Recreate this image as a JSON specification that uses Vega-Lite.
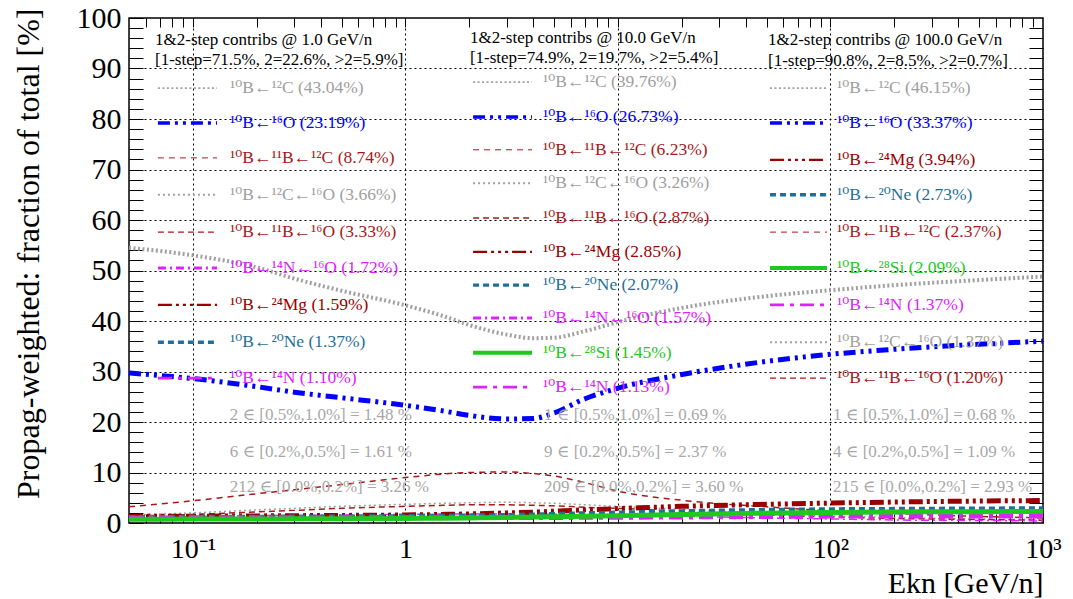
{
  "$schema": "https://vega.github.io/schema/vega-lite/v6.json",
  "width": 914,
  "height": 505,
  "autosize": {"type": "none"},
  "padding": {"left": 129, "top": 18, "right": 30, "bottom": 76},
  "background": "white",
  "config": {
    "view": {"stroke": "black", "strokeWidth": 1.5},
    "font": "Liberation Serif",
    "axis": {"labelFont": "Liberation Serif", "titleFont": "Liberation Serif", "labelColor": "black", "titleColor": "black", "tickColor": "black", "tickWidth": 1, "tickOpacity": 1, "domain": false, "grid": false, "titleFontWeight": "normal", "labelFontWeight": "normal"},
    "text": {"font": "Liberation Serif"}
  },
  "datasets": {
    "curves": [
      {"series":"C12","E":0.05,"pct":54.5},{"series":"C12","E":0.1,"pct":53.0},{"series":"C12","E":0.2,"pct":50.6},{"series":"C12","E":0.3,"pct":48.4},{"series":"C12","E":0.5,"pct":46.0},{"series":"C12","E":1,"pct":43.1},{"series":"C12","E":1.5,"pct":41.0},{"series":"C12","E":2,"pct":39.2},{"series":"C12","E":3,"pct":37.3},{"series":"C12","E":4,"pct":36.6},{"series":"C12","E":5,"pct":36.7},{"series":"C12","E":7,"pct":38.0},{"series":"C12","E":10,"pct":39.8},{"series":"C12","E":20,"pct":42.6},{"series":"C12","E":50,"pct":44.9},{"series":"C12","E":100,"pct":46.1},{"series":"C12","E":200,"pct":47.1},{"series":"C12","E":500,"pct":48.1},{"series":"C12","E":1000,"pct":48.8},
      {"series":"O16","E":0.05,"pct":29.7},{"series":"O16","E":0.1,"pct":28.6},{"series":"O16","E":0.2,"pct":27.0},{"series":"O16","E":0.3,"pct":25.9},{"series":"O16","E":0.5,"pct":24.8},{"series":"O16","E":1,"pct":23.3},{"series":"O16","E":1.5,"pct":22.2},{"series":"O16","E":2,"pct":21.3},{"series":"O16","E":3,"pct":20.6},{"series":"O16","E":4,"pct":20.7},{"series":"O16","E":5,"pct":21.8},{"series":"O16","E":7,"pct":24.6},{"series":"O16","E":10,"pct":26.7},{"series":"O16","E":20,"pct":29.4},{"series":"O16","E":50,"pct":32.0},{"series":"O16","E":100,"pct":33.4},{"series":"O16","E":200,"pct":34.4},{"series":"O16","E":500,"pct":35.4},{"series":"O16","E":1000,"pct":36.0},
      {"series":"B11C12","E":0.05,"pct":3.2},{"series":"B11C12","E":0.1,"pct":4.4},{"series":"B11C12","E":0.2,"pct":5.8},{"series":"B11C12","E":0.3,"pct":6.6},{"series":"B11C12","E":0.5,"pct":7.6},{"series":"B11C12","E":1,"pct":9.0},{"series":"B11C12","E":1.5,"pct":9.7},{"series":"B11C12","E":2,"pct":10.0},{"series":"B11C12","E":3,"pct":10.1},{"series":"B11C12","E":4,"pct":9.8},{"series":"B11C12","E":5,"pct":9.3},{"series":"B11C12","E":7,"pct":8.0},{"series":"B11C12","E":10,"pct":6.3},{"series":"B11C12","E":20,"pct":4.5},{"series":"B11C12","E":50,"pct":3.2},{"series":"B11C12","E":100,"pct":2.4},{"series":"B11C12","E":200,"pct":1.9},{"series":"B11C12","E":500,"pct":1.3},{"series":"B11C12","E":1000,"pct":1.0},
      {"series":"C12O16","E":0.05,"pct":1.6},{"series":"C12O16","E":0.1,"pct":2.0},{"series":"C12O16","E":0.2,"pct":2.6},{"series":"C12O16","E":0.3,"pct":2.9},{"series":"C12O16","E":0.5,"pct":3.3},{"series":"C12O16","E":1,"pct":3.7},{"series":"C12O16","E":1.5,"pct":3.9},{"series":"C12O16","E":2,"pct":4.0},{"series":"C12O16","E":3,"pct":4.1},{"series":"C12O16","E":4,"pct":4.0},{"series":"C12O16","E":5,"pct":3.9},{"series":"C12O16","E":7,"pct":3.6},{"series":"C12O16","E":10,"pct":3.3},{"series":"C12O16","E":20,"pct":2.7},{"series":"C12O16","E":50,"pct":1.9},{"series":"C12O16","E":100,"pct":1.4},{"series":"C12O16","E":200,"pct":1.1},{"series":"C12O16","E":500,"pct":0.8},{"series":"C12O16","E":1000,"pct":0.7},
      {"series":"B11O16","E":0.05,"pct":1.4},{"series":"B11O16","E":0.1,"pct":1.7},{"series":"B11O16","E":0.2,"pct":2.2},{"series":"B11O16","E":0.3,"pct":2.5},{"series":"B11O16","E":0.5,"pct":2.9},{"series":"B11O16","E":1,"pct":3.3},{"series":"B11O16","E":1.5,"pct":3.5},{"series":"B11O16","E":2,"pct":3.6},{"series":"B11O16","E":3,"pct":3.6},{"series":"B11O16","E":4,"pct":3.5},{"series":"B11O16","E":5,"pct":3.4},{"series":"B11O16","E":7,"pct":3.1},{"series":"B11O16","E":10,"pct":2.9},{"series":"B11O16","E":20,"pct":2.3},{"series":"B11O16","E":50,"pct":1.6},{"series":"B11O16","E":100,"pct":1.2},{"series":"B11O16","E":200,"pct":0.9},{"series":"B11O16","E":500,"pct":0.7},{"series":"B11O16","E":1000,"pct":0.55},
      {"series":"N14O16","E":0.05,"pct":1.2},{"series":"N14O16","E":0.1,"pct":1.3},{"series":"N14O16","E":0.2,"pct":1.45},{"series":"N14O16","E":0.3,"pct":1.5},{"series":"N14O16","E":0.5,"pct":1.6},{"series":"N14O16","E":1,"pct":1.72},{"series":"N14O16","E":1.5,"pct":1.76},{"series":"N14O16","E":2,"pct":1.78},{"series":"N14O16","E":3,"pct":1.78},{"series":"N14O16","E":4,"pct":1.76},{"series":"N14O16","E":5,"pct":1.72},{"series":"N14O16","E":7,"pct":1.65},{"series":"N14O16","E":10,"pct":1.57},{"series":"N14O16","E":20,"pct":1.35},{"series":"N14O16","E":50,"pct":1.0},{"series":"N14O16","E":100,"pct":0.8},{"series":"N14O16","E":200,"pct":0.6},{"series":"N14O16","E":500,"pct":0.5},{"series":"N14O16","E":1000,"pct":0.4},
      {"series":"Mg24","E":0.05,"pct":1.3},{"series":"Mg24","E":0.1,"pct":1.35},{"series":"Mg24","E":0.2,"pct":1.4},{"series":"Mg24","E":0.3,"pct":1.45},{"series":"Mg24","E":0.5,"pct":1.5},{"series":"Mg24","E":1,"pct":1.59},{"series":"Mg24","E":1.5,"pct":1.7},{"series":"Mg24","E":2,"pct":1.8},{"series":"Mg24","E":3,"pct":2.0},{"series":"Mg24","E":4,"pct":2.15},{"series":"Mg24","E":5,"pct":2.35},{"series":"Mg24","E":7,"pct":2.6},{"series":"Mg24","E":10,"pct":2.85},{"series":"Mg24","E":20,"pct":3.3},{"series":"Mg24","E":50,"pct":3.7},{"series":"Mg24","E":100,"pct":3.94},{"series":"Mg24","E":200,"pct":4.15},{"series":"Mg24","E":500,"pct":4.35},{"series":"Mg24","E":1000,"pct":4.45},
      {"series":"Ne20","E":0.05,"pct":1.2},{"series":"Ne20","E":0.1,"pct":1.22},{"series":"Ne20","E":0.2,"pct":1.25},{"series":"Ne20","E":0.3,"pct":1.28},{"series":"Ne20","E":0.5,"pct":1.3},{"series":"Ne20","E":1,"pct":1.37},{"series":"Ne20","E":1.5,"pct":1.44},{"series":"Ne20","E":2,"pct":1.5},{"series":"Ne20","E":3,"pct":1.6},{"series":"Ne20","E":4,"pct":1.7},{"series":"Ne20","E":5,"pct":1.8},{"series":"Ne20","E":7,"pct":1.95},{"series":"Ne20","E":10,"pct":2.07},{"series":"Ne20","E":20,"pct":2.35},{"series":"Ne20","E":50,"pct":2.6},{"series":"Ne20","E":100,"pct":2.73},{"series":"Ne20","E":200,"pct":2.8},{"series":"Ne20","E":500,"pct":2.88},{"series":"Ne20","E":1000,"pct":2.92},
      {"series":"N14","E":0.05,"pct":1.0},{"series":"N14","E":0.1,"pct":1.02},{"series":"N14","E":0.2,"pct":1.04},{"series":"N14","E":0.3,"pct":1.05},{"series":"N14","E":0.5,"pct":1.07},{"series":"N14","E":1,"pct":1.1},{"series":"N14","E":1.5,"pct":1.1},{"series":"N14","E":2,"pct":1.1},{"series":"N14","E":3,"pct":1.1},{"series":"N14","E":4,"pct":1.11},{"series":"N14","E":5,"pct":1.11},{"series":"N14","E":7,"pct":1.12},{"series":"N14","E":10,"pct":1.13},{"series":"N14","E":20,"pct":1.2},{"series":"N14","E":50,"pct":1.3},{"series":"N14","E":100,"pct":1.37},{"series":"N14","E":200,"pct":1.4},{"series":"N14","E":500,"pct":1.4},{"series":"N14","E":1000,"pct":1.4},
      {"series":"Si28","E":0.05,"pct":0.75},{"series":"Si28","E":0.1,"pct":0.78},{"series":"Si28","E":0.2,"pct":0.8},{"series":"Si28","E":0.3,"pct":0.82},{"series":"Si28","E":0.5,"pct":0.85},{"series":"Si28","E":1,"pct":0.9},{"series":"Si28","E":1.5,"pct":0.95},{"series":"Si28","E":2,"pct":1.0},{"series":"Si28","E":3,"pct":1.1},{"series":"Si28","E":4,"pct":1.18},{"series":"Si28","E":5,"pct":1.25},{"series":"Si28","E":7,"pct":1.35},{"series":"Si28","E":10,"pct":1.45},{"series":"Si28","E":20,"pct":1.7},{"series":"Si28","E":50,"pct":1.95},{"series":"Si28","E":100,"pct":2.09},{"series":"Si28","E":200,"pct":2.18},{"series":"Si28","E":500,"pct":2.25},{"series":"Si28","E":1000,"pct":2.3}
    ],
    "legend": [
      {"series":"C12","label":"¹⁰B←¹²C (43.04%)","E":0.1494,"E0":0.0684,"E1":0.1298,"pct":86.1},
      {"series":"O16","label":"¹⁰B←¹⁶O (23.19%)","E":0.1494,"E0":0.0684,"E1":0.1298,"pct":79.2},
      {"series":"B11C12","label":"¹⁰B←¹¹B←¹²C (8.74%)","E":0.1494,"E0":0.0684,"E1":0.1298,"pct":72.3},
      {"series":"C12O16","label":"¹⁰B←¹²C←¹⁶O (3.66%)","E":0.1494,"E0":0.0684,"E1":0.1298,"pct":65.0},
      {"series":"B11O16","label":"¹⁰B←¹¹B←¹⁶O (3.33%)","E":0.1494,"E0":0.0684,"E1":0.1298,"pct":57.6},
      {"series":"N14O16","label":"¹⁰B←¹⁴N←¹⁶O (1.72%)","E":0.1494,"E0":0.0684,"E1":0.1298,"pct":50.5},
      {"series":"Mg24","label":"¹⁰B←²⁴Mg (1.59%)","E":0.1494,"E0":0.0684,"E1":0.1298,"pct":43.2},
      {"series":"Ne20","label":"¹⁰B←²⁰Ne (1.37%)","E":0.1494,"E0":0.0684,"E1":0.1298,"pct":35.8},
      {"series":"N14","label":"¹⁰B←¹⁴N (1.10%)","E":0.1494,"E0":0.0684,"E1":0.1298,"pct":28.7},
      {"series":"C12","label":"¹⁰B←¹²C (39.76%)","E":4.44,"E0":2.08,"E1":3.94,"pct":87.3},
      {"series":"O16","label":"¹⁰B←¹⁶O (26.73%)","E":4.44,"E0":2.08,"E1":3.94,"pct":80.4},
      {"series":"B11C12","label":"¹⁰B←¹¹B←¹²C (6.23%)","E":4.44,"E0":2.08,"E1":3.94,"pct":73.9},
      {"series":"C12O16","label":"¹⁰B←¹²C←¹⁶O (3.26%)","E":4.44,"E0":2.08,"E1":3.94,"pct":67.3},
      {"series":"B11O16","label":"¹⁰B←¹¹B←¹⁶O (2.87%)","E":4.44,"E0":2.08,"E1":3.94,"pct":60.4},
      {"series":"Mg24","label":"¹⁰B←²⁴Mg (2.85%)","E":4.44,"E0":2.08,"E1":3.94,"pct":53.7},
      {"series":"Ne20","label":"¹⁰B←²⁰Ne (2.07%)","E":4.44,"E0":2.08,"E1":3.94,"pct":47.1},
      {"series":"N14O16","label":"¹⁰B←¹⁴N←¹⁶O (1.57%)","E":4.44,"E0":2.08,"E1":3.94,"pct":40.6},
      {"series":"Si28","label":"¹⁰B←²⁸Si (1.45%)","E":4.44,"E0":2.08,"E1":3.94,"pct":33.7},
      {"series":"N14","label":"¹⁰B←¹⁴N (1.13%)","E":4.44,"E0":2.08,"E1":3.94,"pct":26.9},
      {"series":"C12","label":"¹⁰B←¹²C (46.15%)","E":107.4,"E0":51.9,"E1":96.3,"pct":86.1},
      {"series":"O16","label":"¹⁰B←¹⁶O (33.37%)","E":107.4,"E0":51.9,"E1":96.3,"pct":79.2},
      {"series":"Mg24","label":"¹⁰B←²⁴Mg (3.94%)","E":107.4,"E0":51.9,"E1":96.3,"pct":71.9},
      {"series":"Ne20","label":"¹⁰B←²⁰Ne (2.73%)","E":107.4,"E0":51.9,"E1":96.3,"pct":65.0},
      {"series":"B11C12","label":"¹⁰B←¹¹B←¹²C (2.37%)","E":107.4,"E0":51.9,"E1":96.3,"pct":57.6},
      {"series":"Si28","label":"¹⁰B←²⁸Si (2.09%)","E":107.4,"E0":51.9,"E1":96.3,"pct":50.5},
      {"series":"N14","label":"¹⁰B←¹⁴N (1.37%)","E":107.4,"E0":51.9,"E1":96.3,"pct":43.2},
      {"series":"C12O16","label":"¹⁰B←¹²C←¹⁶O (1.37%)","E":107.4,"E0":51.9,"E1":96.3,"pct":35.8},
      {"series":"B11O16","label":"¹⁰B←¹¹B←¹⁶O (1.20%)","E":107.4,"E0":51.9,"E1":96.3,"pct":28.7}
    ],
    "notes": [
      {"kind":"header","text":"1&2-step contribs @ 1.0 GeV/n","E":0.0663,"pct":95.6},
      {"kind":"header","text":"[1-step=71.5%, 2=22.6%, >2=5.9%]","E":0.0663,"pct":91.7},
      {"kind":"header","text":"1&2-step contribs @ 10.0 GeV/n","E":2.01,"pct":96.0},
      {"kind":"header","text":"[1-step=74.9%, 2=19.7%, >2=5.4%]","E":2.01,"pct":92.1},
      {"kind":"header","text":"1&2-step contribs @ 100.0 GeV/n","E":50.8,"pct":95.6},
      {"kind":"header","text":"[1-step=90.8%, 2=8.5%, >2=0.7%]","E":50.8,"pct":91.5},
      {"kind":"summary","text":"2 ∈ [0.5%,1.0%] = 1.48 %","E":0.149,"pct":21.4},
      {"kind":"summary","text":"6 ∈ [0.2%,0.5%] = 1.61 %","E":0.149,"pct":14.1},
      {"kind":"summary","text":"212 ∈ [0.0%,0.2%] = 3.26 %","E":0.149,"pct":7.1},
      {"kind":"summary","text":"1 ∈ [0.5%,1.0%] = 0.69 %","E":4.49,"pct":21.4},
      {"kind":"summary","text":"9 ∈ [0.2%,0.5%] = 2.37 %","E":4.49,"pct":14.1},
      {"kind":"summary","text":"209 ∈ [0.0%,0.2%] = 3.60 %","E":4.49,"pct":7.1},
      {"kind":"summary","text":"1 ∈ [0.5%,1.0%] = 0.68 %","E":102.8,"pct":21.4},
      {"kind":"summary","text":"4 ∈ [0.2%,0.5%] = 1.09 %","E":102.8,"pct":14.1},
      {"kind":"summary","text":"215 ∈ [0.0%,0.2%] = 2.93 %","E":102.8,"pct":7.1}
    ]
  },
  "resolve": {"axis": {"x": "independent", "y": "independent"}},
  "layer": [
    {
      "data": {"name": "curves"},
      "mark": {"type": "line", "interpolate": "monotone"},
      "encoding": {
        "x": {"field": "E", "type": "quantitative", "scale": {"type": "log", "domain": [0.05, 1000], "nice": false},
          "axis": {"orient": "bottom",
            "values": [0.06, 0.07, 0.08, 0.09, 0.1, 0.2, 0.3, 0.4, 0.5, 0.6, 0.7, 0.8, 0.9, 1, 2, 3, 4, 5, 6, 7, 8, 9, 10, 20, 30, 40, 50, 60, 70, 80, 90, 100, 200, 300, 400, 500, 600, 700, 800, 900, 1000],
            "ticks": true, "tickSize": -9, "grid": true, "gridColor": "black", "gridDash": [2, 3], "gridWidth": 1,
            "gridOpacity": {"condition": {"test": "datum.value == 0.1 || datum.value == 1 || datum.value == 10 || datum.value == 100", "value": 1}, "value": 0},
            "labelExpr": "datum.value == 0.1 ? '10⁻¹' : datum.value == 1 ? '1' : datum.value == 10 ? '10' : datum.value == 100 ? '10²' : datum.value == 1000 ? '10³' : ''",
            "labelOverlap": false, "labelFontSize": 28, "labelPadding": 21, "labelFlush": false,
            "title": "Ekn [GeV/n]", "titleFontSize": 30, "titleAlign": "right", "titleX": 914, "titleY": 60, "titleBaseline": "middle"}},
        "y": {"field": "pct", "type": "quantitative", "scale": {"domain": [0, 100], "nice": false},
          "axis": {"orient": "left",
            "values": [0, 2, 4, 6, 8, 10, 12, 14, 16, 18, 20, 22, 24, 26, 28, 30, 32, 34, 36, 38, 40, 42, 44, 46, 48, 50, 52, 54, 56, 58, 60, 62, 64, 66, 68, 70, 72, 74, 76, 78, 80, 82, 84, 86, 88, 90, 92, 94, 96, 98, 100],
            "ticks": true, "tickSize": -14, "grid": true, "gridColor": "black", "gridDash": [2, 3], "gridWidth": 1,
            "gridOpacity": {"condition": {"test": "datum.value % 10 == 0 && datum.value > 0 && datum.value < 100", "value": 1}, "value": 0},
            "labelExpr": "datum.value % 10 == 0 ? datum.label : ''",
            "labelOverlap": false, "labelFontSize": 30, "labelPadding": 22, "labelFlush": false,
            "title": "Propag-weighted: fraction of total  [%]", "titleFontSize": 32, "titleAngle": -90, "titleAlign": "right", "titleBaseline": "middle", "titleX": -101, "titleY": -10}},
        "color": {"field": "series", "type": "nominal", "legend": null,
          "scale": {"domain": ["C12", "O16", "B11C12", "C12O16", "B11O16", "N14O16", "Mg24", "Ne20", "N14", "Si28"],
                    "range": ["#a0a0a0", "#0000ff", "#a81818", "#a0a0a0", "#a81818", "#dd22ff", "#990000", "#1f6f99", "#dd22ff", "#1ec81e"]}},
        "strokeDash": {"field": "series", "type": "nominal", "legend": null,
          "scale": {"domain": ["C12", "O16", "B11C12", "C12O16", "B11O16", "N14O16", "Mg24", "Ne20", "N14", "Si28"],
                    "range": [[2, 2.5], [12, 5, 3, 5, 3, 5], [6, 5], [2, 3], [6, 4], [8, 4, 2, 4], [14, 4, 3, 4, 3, 4, 3, 4], [6, 4], [14, 6, 4, 6], [100, 0]]}},
        "strokeWidth": {"field": "series", "type": "nominal", "legend": null,
          "scale": {"type": "ordinal", "domain": ["C12", "O16", "B11C12", "C12O16", "B11O16", "N14O16", "Mg24", "Ne20", "N14", "Si28"],
                    "range": [4, 5, 1.5, 1.5, 1.5, 1.5, 5, 4, 5, 5]}}
      }
    },
    {
      "data": {"name": "legend"},
      "mark": {"type": "rule"},
      "encoding": {
        "x": {"field": "E0", "type": "quantitative", "scale": {"type": "log", "domain": [0.05, 1000], "nice": false},
          "axis": {"orient": "top", "values": [0.06, 0.07, 0.08, 0.09, 0.1, 0.2, 0.3, 0.4, 0.5, 0.6, 0.7, 0.8, 0.9, 1, 2, 3, 4, 5, 6, 7, 8, 9, 10, 20, 30, 40, 50, 60, 70, 80, 90, 100, 200, 300, 400, 500, 600, 700, 800, 900], "labels": false, "title": null, "ticks": true, "tickSize": -9}},
        "x2": {"field": "E1"},
        "y": {"field": "pct", "type": "quantitative", "scale": {"domain": [0, 100], "nice": false},
          "axis": {"orient": "right", "values": [2, 4, 6, 8, 10, 12, 14, 16, 18, 20, 22, 24, 26, 28, 30, 32, 34, 36, 38, 40, 42, 44, 46, 48, 50, 52, 54, 56, 58, 60, 62, 64, 66, 68, 70, 72, 74, 76, 78, 80, 82, 84, 86, 88, 90, 92, 94, 96, 98], "labels": false, "title": null, "ticks": true, "tickSize": -14}},
        "color": {"field": "series", "type": "nominal", "legend": null},
        "strokeDash": {"field": "series", "type": "nominal", "legend": null},
        "strokeWidth": {"field": "series", "type": "nominal", "legend": null}
      }
    },
    {
      "data": {"name": "legend"},
      "mark": {"type": "text", "align": "left", "baseline": "middle", "fontSize": 17.5, "font": "Liberation Serif, DejaVu Serif"},
      "encoding": {
        "x": {"field": "E", "type": "quantitative", "scale": {"type": "log", "domain": [0.05, 1000], "nice": false}, "axis": null},
        "y": {"field": "pct", "type": "quantitative", "scale": {"domain": [0, 100], "nice": false}, "axis": null},
        "text": {"field": "label", "type": "nominal"},
        "color": {"field": "series", "type": "nominal", "legend": null}
      }
    },
    {
      "data": {"name": "notes"},
      "mark": {"type": "text", "align": "left", "baseline": "middle", "fontSize": 17, "font": "Liberation Serif, DejaVu Serif"},
      "encoding": {
        "x": {"field": "E", "type": "quantitative", "scale": {"type": "log", "domain": [0.05, 1000], "nice": false}, "axis": null},
        "y": {"field": "pct", "type": "quantitative", "scale": {"domain": [0, 100], "nice": false}, "axis": null},
        "text": {"field": "text", "type": "nominal"},
        "fill": {"field": "kind", "type": "nominal", "legend": null, "scale": {"domain": ["header", "summary"], "range": ["black", "#a8a8a8"]}}
      }
    }
  ]
}
